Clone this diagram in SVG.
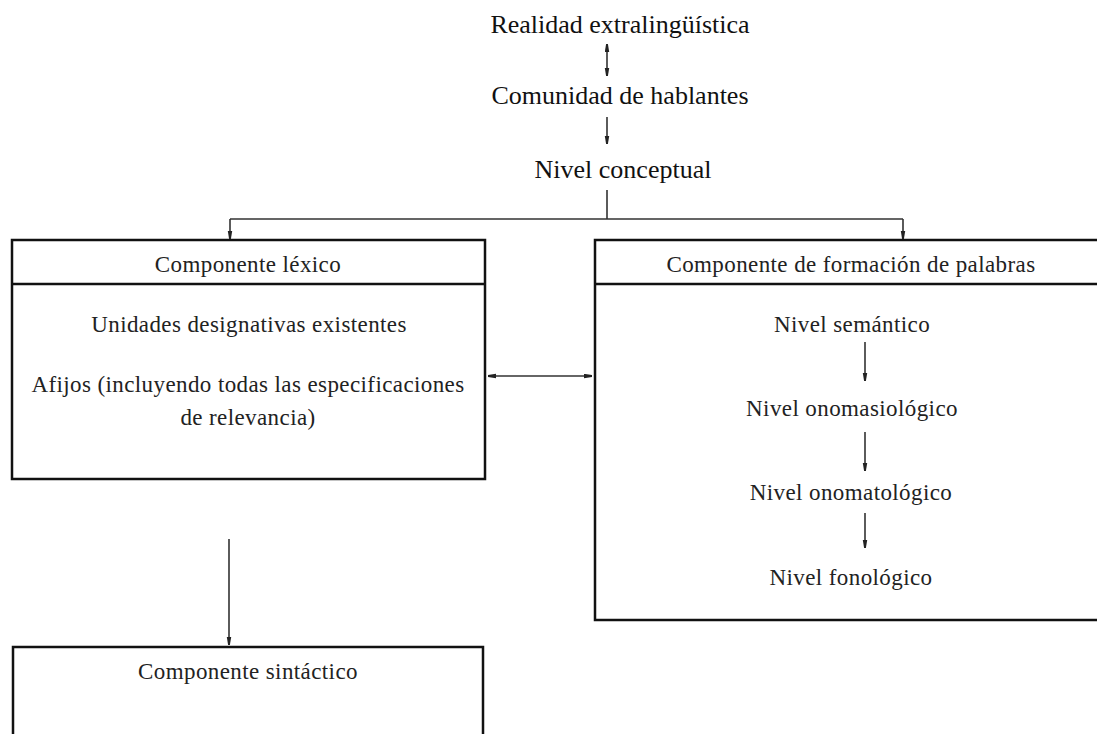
<svg xmlns="http://www.w3.org/2000/svg" width="1097" height="734" viewBox="0 0 1097 734">
<style>
.top{font-family:"Liberation Serif","Times New Roman",serif;font-size:26px;fill:#111;text-anchor:middle}
.bx{font-family:"Liberation Serif","Times New Roman",serif;font-size:23px;letter-spacing:0.4px;fill:#222;text-anchor:middle}
.box{fill:#fff;stroke:#111;stroke-width:2.5}
.div{stroke:#111;stroke-width:2.5}
.conn{fill:none;stroke:#333;stroke-width:1.6}
</style>
<defs>
<marker id="ah" markerUnits="userSpaceOnUse" markerWidth="10" markerHeight="6" refX="8" refY="2.5" orient="auto-start-reverse">
<path d="M0,0.3 L8,1.6 L8,3.4 L0,4.7 z" fill="#222"/>
</marker>
</defs>
<rect width="1097" height="734" fill="#fff"/>
<g id="realidad"><text class="top" x="620" y="33">Realidad extralingüística</text></g>
<g id="comunidad"><text class="top" x="620" y="104">Comunidad de hablantes</text></g>
<g id="conceptual"><text class="top" x="623" y="178">Nivel conceptual</text></g>
<g id="lexico">
<rect class="box" x="12" y="240" width="473" height="239"/>
<line class="div" x1="12" y1="284" x2="485" y2="284"/>
<text class="bx" x="248" y="272">Componente léxico</text>
<text class="bx" x="249" y="332">Unidades designativas existentes</text>
<text class="bx" x="248" y="392">Afijos (incluyendo todas las especificaciones</text>
<text class="bx" x="248" y="425">de relevancia)</text>
</g>
<g id="formacion">
<rect class="box" x="595" y="240" width="520" height="380"/>
<line class="div" x1="595" y1="284" x2="1100" y2="284"/>
<text class="bx" x="851" y="272">Componente de formación de palabras</text>
<text class="bx" x="852" y="332">Nivel semántico</text>
<text class="bx" x="852" y="416">Nivel onomasiológico</text>
<text class="bx" x="851" y="500">Nivel onomatológico</text>
<text class="bx" x="851" y="585">Nivel fonológico</text>
</g>
<g id="sintactico">
<rect class="box" x="13" y="647" width="470" height="100"/>
<text class="bx" x="248" y="679">Componente sintáctico</text>
</g>
<g id="connectors">
<line class="conn" x1="607" y1="44" x2="607" y2="76" marker-start="url(#ah)" marker-end="url(#ah)"/>
<line class="conn" x1="607" y1="117" x2="607" y2="144" marker-end="url(#ah)"/>
<path class="conn" d="M607,190 V219 M230,219 H903"/>
<line class="conn" x1="230" y1="219" x2="230" y2="239" marker-end="url(#ah)"/>
<line class="conn" x1="903" y1="219" x2="903" y2="239" marker-end="url(#ah)"/>
<line class="conn" x1="488" y1="376" x2="592" y2="376" marker-start="url(#ah)" marker-end="url(#ah)"/>
<line class="conn" x1="865" y1="342" x2="865" y2="381" marker-end="url(#ah)"/>
<line class="conn" x1="865" y1="432" x2="865" y2="471" marker-end="url(#ah)"/>
<line class="conn" x1="865" y1="513" x2="865" y2="548" marker-end="url(#ah)"/>
<line class="conn" x1="229" y1="539" x2="229" y2="645" marker-end="url(#ah)"/>
</g>
</svg>
